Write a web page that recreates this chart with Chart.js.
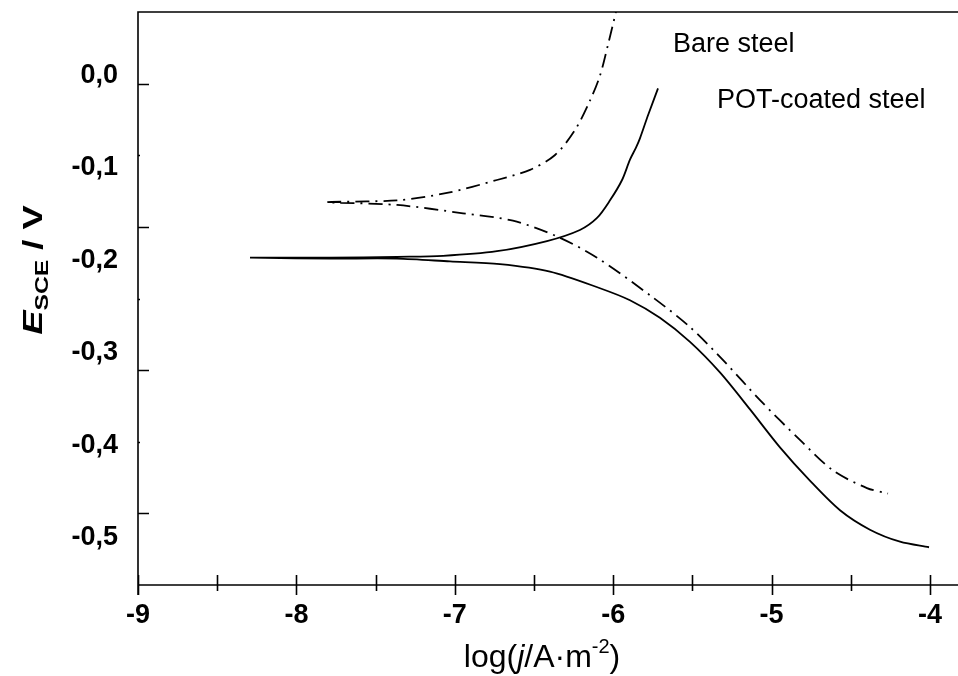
<!DOCTYPE html>
<html>
<head>
<meta charset="utf-8">
<script src="https://cdn.jsdelivr.net/npm/chart.js@4.4.1/dist/chart.umd.min.js"></script>
<style>
  html, body { margin: 0; padding: 0; background: #fff; }
  #wrap { width: 958px; height: 676px; }
</style>
</head>
<body>
<div id="wrap"><canvas id="chart" width="958" height="676"></canvas></div>
<script>
// Bare steel (dash-dot): anodic branch from top down to Ecorr, then cathodic branch
var bareLogJ = [-5.963, -5.982, -6.033, -6.083, -6.146, -6.241, -6.367, -6.525, -6.734, -7.049, -7.365, -7.807,
                -7.365, -6.948, -6.633, -6.355, -6.102, -5.749, -5.515, -5.294, -5.073, -4.821, -4.612, -4.398, -4.265];
var bareE    = [0.082, 0.069, 0.033, 0.000, -0.027, -0.059, -0.086, -0.102, -0.113, -0.127, -0.135, -0.137,
                -0.140, -0.149, -0.157, -0.174, -0.197, -0.240, -0.272, -0.310, -0.351, -0.394, -0.427, -0.446, -0.452];

// POT-coated steel (solid)
var potLogJ = [-5.717, -5.780, -5.831, -5.856, -5.894, -5.944, -6.020, -6.102, -6.210, -6.418, -6.734, -7.074, -7.365, -7.788, -8.293,
               -7.788, -7.365, -7.030, -6.715, -6.399, -6.083, -5.894, -5.705, -5.515, -5.326, -5.136, -4.947, -4.758, -4.568, -4.379, -4.189, -4.006];
var potE    = [-0.014, -0.043, -0.068, -0.078, -0.091, -0.113, -0.135, -0.154, -0.167, -0.179, -0.190, -0.195, -0.196, -0.197, -0.197,
               -0.198, -0.198, -0.201, -0.204, -0.212, -0.230, -0.243, -0.262, -0.288, -0.321, -0.361, -0.402, -0.438, -0.470, -0.491, -0.504, -0.510];

// axes
var xTicks = [-9, -8, -7, -6, -5, -4];
var xTickMarks = [-9, -8.5, -8, -7.5, -7, -6.5, -6, -5.5, -5, -4.5, -4];
var yTicks = [0, -0.1, -0.2, -0.3, -0.4, -0.5];
var yTickLabels = ['0,0', '-0,1', '-0,2', '-0,3', '-0,4', '-0,5'];
// tick marks on the left frame sit on their own scale (not aligned with the labels)
var yMarkMajor = [0, -1, -2, -3];
var yMarkMinor = [-0.5, -1.5, -2.5];

var FONT = '"Liberation Sans", Arial, sans-serif';

function pts(xs, ys) {
  return xs.map(function (x, i) { return { x: x, y: ys[i] }; });
}

var framePlugin = {
  id: 'frame',
  afterDraw: function (chart) {
    var ctx = chart.ctx, a = chart.chartArea;
    var sx = chart.scales.x, st = chart.scales.yt;
    ctx.save();
    ctx.strokeStyle = '#000';
    ctx.lineWidth = 1.6;
    ctx.beginPath();
    ctx.moveTo(a.left, a.bottom + 10);
    ctx.lineTo(a.left, a.top);
    ctx.lineTo(a.right, a.top);
    ctx.moveTo(a.left, a.bottom);
    ctx.lineTo(a.right, a.bottom);
    // x tick marks crossing the axis
    xTickMarks.forEach(function (v) {
      var px = Math.round(sx.getPixelForValue(v)) + 0.5;
      var down = Number.isInteger(v) ? 10 : 6;
      ctx.moveTo(px, a.bottom - 10);
      ctx.lineTo(px, a.bottom + down);
    });
    // y tick marks pointing inward
    yMarkMajor.forEach(function (v) {
      var py = Math.round(st.getPixelForValue(v)) + 0.5;
      ctx.moveTo(a.left, py);
      ctx.lineTo(a.left + 11, py);
    });
    yMarkMinor.forEach(function (v) {
      var py = Math.round(st.getPixelForValue(v)) + 0.5;
      ctx.moveTo(a.left, py);
      ctx.lineTo(a.left + 2, py);
    });
    ctx.stroke();

    // curve labels
    ctx.fillStyle = '#000';
    ctx.textBaseline = 'alphabetic';
    ctx.textAlign = 'left';
    ctx.font = '27px ' + FONT;
    ctx.fillText('Bare steel', 673, 52);
    ctx.fillText('POT-coated steel', 717, 108);

    // x title: log(j/A·m^-2)
    var parts = [
      { t: 'log(', f: '32px ' + FONT, dy: 0 },
      { t: 'j', f: 'italic 32px ' + FONT, dy: 0 },
      { t: '/A\u00b7m', f: '32px ' + FONT, dy: 0 },
      { t: '-2', f: '20px ' + FONT, dy: -14 },
      { t: ')', f: '32px ' + FONT, dy: 0 }
    ];
    var w = 0;
    parts.forEach(function (p) { ctx.font = p.f; w += ctx.measureText(p.t).width; });
    var x = 542 - w / 2, base = 667;
    parts.forEach(function (p) {
      ctx.font = p.f;
      ctx.fillText(p.t, x, base + p.dy);
      x += ctx.measureText(p.t).width;
    });

    // y title: E_SCE / V (rotated, slightly stretched along its length like the original)
    var yparts = [
      { t: 'E', f: 'italic bold 28px ' + FONT, dy: 0 },
      { t: 'SCE', f: 'bold 19px ' + FONT, dy: 6 },
      { t: ' / V', f: 'bold 28px ' + FONT, dy: 0 }
    ];
    var yw = 0;
    yparts.forEach(function (p) { ctx.font = p.f; yw += ctx.measureText(p.t).width; });
    ctx.translate(42, 270);
    ctx.rotate(-Math.PI / 2);
    ctx.scale(1.3, 1);
    var yx = -yw / 2;
    yparts.forEach(function (p) {
      ctx.font = p.f;
      ctx.fillText(p.t, yx, p.dy);
      yx += ctx.measureText(p.t).width;
    });
    ctx.restore();
  }
};

var config = {
  type: 'scatter',
  data: {
    datasets: [
      {
        label: 'Bare steel',
        data: pts(bareLogJ, bareE),
        showLine: true,
        borderColor: '#000',
        borderWidth: 1.8,
        borderDash: [14, 6, 2, 6],
        pointRadius: 0,
        tension: 0.3,
        fill: false
      },
      {
        label: 'POT-coated steel',
        data: pts(potLogJ, potE),
        showLine: true,
        borderColor: '#000',
        borderWidth: 1.8,
        pointRadius: 0,
        tension: 0.3,
        fill: false
      }
    ]
  },
  options: {
    responsive: false,
    animation: false,
    layout: { padding: { top: 12, right: 0, left: 0, bottom: 0 } },
    plugins: {
      legend: { display: false },
      tooltip: { enabled: false }
    },
    scales: {
      x: {
        type: 'linear',
        min: -9,
        max: -3.823,
        grid: { display: false },
        border: { display: false },
        afterBuildTicks: function (s) { s.ticks = xTicks.map(function (v) { return { value: v }; }); },
        afterFit: function (s) { s.height = 91; s.paddingLeft = 0; s.paddingRight = 0; },
        ticks: {
          padding: 6,
          color: '#000',
          font: { family: FONT, size: 27, weight: 'bold' },
          callback: function (v) { return String(v); }
        }
      },
      y: {
        type: 'linear',
        min: -0.5508,
        max: 0.0686,
        grid: { display: false },
        border: { display: false },
        afterBuildTicks: function (s) { s.ticks = yTicks.map(function (v) { return { value: v }; }); },
        afterFit: function (s) { s.width = 138; s.paddingTop = 0; s.paddingBottom = 0; },
        ticks: {
          padding: 12,
          color: '#000',
          font: { family: FONT, size: 27, weight: 'bold' },
          callback: function (v) {
            var i = yTicks.indexOf(v);
            return i >= 0 ? yTickLabels[i] : '';
          }
        }
      },
      yt: {
        type: 'linear',
        position: 'left',
        display: false,
        min: -3.5,
        max: 0.5
      }
    }
  },
  plugins: [framePlugin]
};

window.onload = function () {
  var ctx = document.getElementById('chart').getContext('2d');
  window.myChart = new Chart(ctx, config);
};
</script>
</body>
</html>
